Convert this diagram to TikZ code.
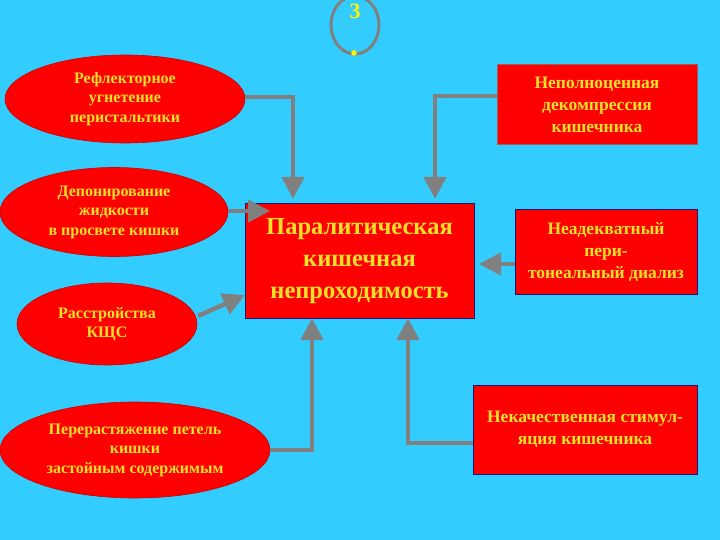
\documentclass[tikz,border=0pt]{standalone}
\usepackage{fontspec}
\setmainfont{Liberation Serif}
\usetikzlibrary{shapes.geometric,arrows.meta}
\definecolor{bg}{RGB}{51,204,255}
\definecolor{txt}{RGB}{255,225,40}
\definecolor{arr}{RGB}{128,128,128}
\definecolor{dblue}{RGB}{30,20,120}
\tikzset{
  ell/.style={ellipse,fill=red,draw=red!80!black,line width=0.6pt,inner sep=0pt,text=txt,font=\bfseries\fontsize{16}{19.5}\selectfont,align=center},
  rbox/.style={rectangle,fill=red,draw=dblue,line width=1pt,inner sep=0pt,text=txt,font=\bfseries\fontsize{17.5}{22}\selectfont,align=center},
  con/.style={draw=arr,line width=4.5pt,-{Triangle[length=22pt,width=22pt]}}
}
\begin{document}
\begin{tikzpicture}[x=1pt,y=-1pt]
\useasboundingbox[fill=bg] (0,0) rectangle (720,540);
% top symbol
\draw[arr,line width=3pt] (355,25) ellipse [x radius=24,y radius=29];
\node[text=yellow,font=\bfseries\fontsize{22}{22}\selectfont,anchor=base] (three) at (355,19) {3};
\fill[yellow] (354,53) circle (2.8);
% ellipses
\node[ell,minimum width=240,minimum height=88] (e1) at (125,99) {Рефлекторное\\угнетение\\перистальтики};
\node[ell,minimum width=228,minimum height=89] (e2) at (114,212) {Депонирование\\жидкости\\в просвете кишки};
\node[ell,minimum width=180,minimum height=82] (e3) at (107,324) {Расстройства\\КЩС};
\node[ell,minimum width=270,minimum height=96] (e4) at (135,450) {Перерастяжение петель\\кишки\\застойным содержимым};
% boxes
\node[rbox,minimum width=229,minimum height=114,font=\bfseries\fontsize{24.5}{32}\selectfont] (c) at (359.5,261) {Паралитическая\\кишечная\\непроходимость};
\node[rbox,draw=arr!70!red,minimum width=200,minimum height=80] (b1) at (597,105) {Неполноценная\\декомпрессия\\кишечника};
\node[rbox,minimum width=182,minimum height=84] (b2) at (606,252) {Неадекватный\\пери-\\тонеальный диализ};
\node[rbox,minimum width=224,minimum height=89] (b3) at (585,429.5) {Некачественная стимул-\\яция кишечника};
% connectors
\coordinate (t1) at (293,199);
\coordinate (t2) at (435,199);
\coordinate (t3) at (270,211);
\coordinate (t4) at (245,295);
\coordinate (t5) at (312,318);
\coordinate (t6) at (408,318);
\coordinate (t7) at (479,264);
\draw[con] (e1.east |- 0,97) -| (t1);
\draw[con] (b1.west |- 0,96) -| (t2);
\draw[con] (e2.east |- 0,211) -- (t3);
\draw[con] (198,316) -- (t4);
\draw[con] (e4.east |- 0,450) -| (t5);
\draw[con] (b3.west |- 0,443) -| (t6);
\draw[con] (b2.west |- 0,264) -- (t7);
\end{tikzpicture}
\end{document}
